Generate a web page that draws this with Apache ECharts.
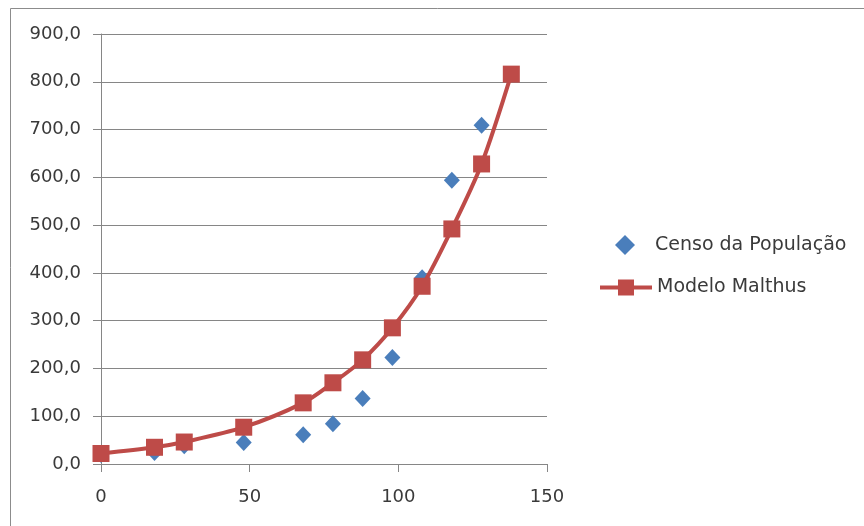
<!DOCTYPE html>
<html>
<head>
<meta charset="utf-8">
<script src="https://cdn.jsdelivr.net/npm/echarts@6/dist/echarts.min.js"></script>
<style>html,body{margin:0;padding:0;background:#fff}#c{width:864px;height:526px}</style>
</head>
<body>
<div id="c"></div>
<script>
const seriesNames = ['Censo da População', 'Modelo Malthus'];
const censoX = [0, 18, 28, 48, 68, 78, 88, 98, 108, 118, 128];
const censoY = [20, 24, 38, 45, 61, 84, 137, 223, 390, 594, 709];
const malthusX = [0, 18, 28, 48, 68, 78, 88, 98, 108, 118, 128, 138];
const malthusY = [22, 35, 46, 77, 128, 170, 218, 285, 372, 492, 628, 816];
const xTicks = [0, 50, 100, 150];
const yTicks = [0, 100, 200, 300, 400, 500, 600, 700, 800, 900];

const chart = echarts.init(document.getElementById('c'), null, {renderer: 'canvas'});
const font = 'DejaVu Sans';
const textColor = '#3a3a3a';
const gridColor = '#868686';
const blue = '#4a7ebb';
const red = '#be4b48';
chart.setOption({
  animation: false,
  backgroundColor: '#fff',
  graphic: [{
    type: 'rect', silent: true,
    shape: {x: 10.5, y: 8.5, width: 900, height: 600},
    style: {fill: 'none', stroke: '#8c8c8c', lineWidth: 1}
  }],
  grid: {left: 101, right: 317, top: 34, bottom: 62},
  legend: [{
    orient: 'vertical', left: 610, top: 230,
    itemWidth: 20, itemHeight: 20,
    textStyle: {fontFamily: font, fontSize: 19, color: textColor, padding: [0, 0, 0, 15]},
    data: [{name: seriesNames[0], icon: 'diamond'}]
  }, {
    orient: 'vertical', left: 593, top: 273,
    itemWidth: 52, itemHeight: 20,
    lineStyle: {width: 4},
    textStyle: {fontFamily: font, fontSize: 19, color: textColor},
    data: [seriesNames[1]]
  }],
  xAxis: {
    type: 'value', min: xTicks[0], max: xTicks[xTicks.length - 1], interval: 50,
    axisLine: {show: true, lineStyle: {color: gridColor, width: 1}},
    axisTick: {show: true, length: 8, lineStyle: {color: gridColor}},
    axisLabel: {margin: 24, fontFamily: font, fontSize: 18, color: textColor},
    splitLine: {show: false}
  },
  yAxis: {
    type: 'value', min: yTicks[0], max: yTicks[yTicks.length - 1], interval: 100,
    axisLine: {show: true, lineStyle: {color: gridColor, width: 1}},
    axisTick: {show: true, length: 8, lineStyle: {color: gridColor}},
    axisLabel: {margin: 20, fontFamily: font, fontSize: 18, color: textColor,
      formatter: v => v.toFixed(1).replace('.', ',')},
    splitLine: {show: true, lineStyle: {color: gridColor, width: 1}}
  },
  series: [
    {
      name: seriesNames[0], type: 'scatter', z: 2,
      symbol: 'diamond', symbolSize: [16, 17],
      itemStyle: {color: blue, opacity: 1},
      data: censoX.map((x, i) => [x, censoY[i]])
    },
    {
      name: seriesNames[1], type: 'line', z: 3,
      smooth: 0.3,
      symbol: 'rect', symbolSize: 17,
      lineStyle: {color: red, width: 4},
      itemStyle: {color: red, opacity: 1},
      data: malthusX.map((x, i) => [x, malthusY[i]])
    }
  ]
});
</script>
</body>
</html>
